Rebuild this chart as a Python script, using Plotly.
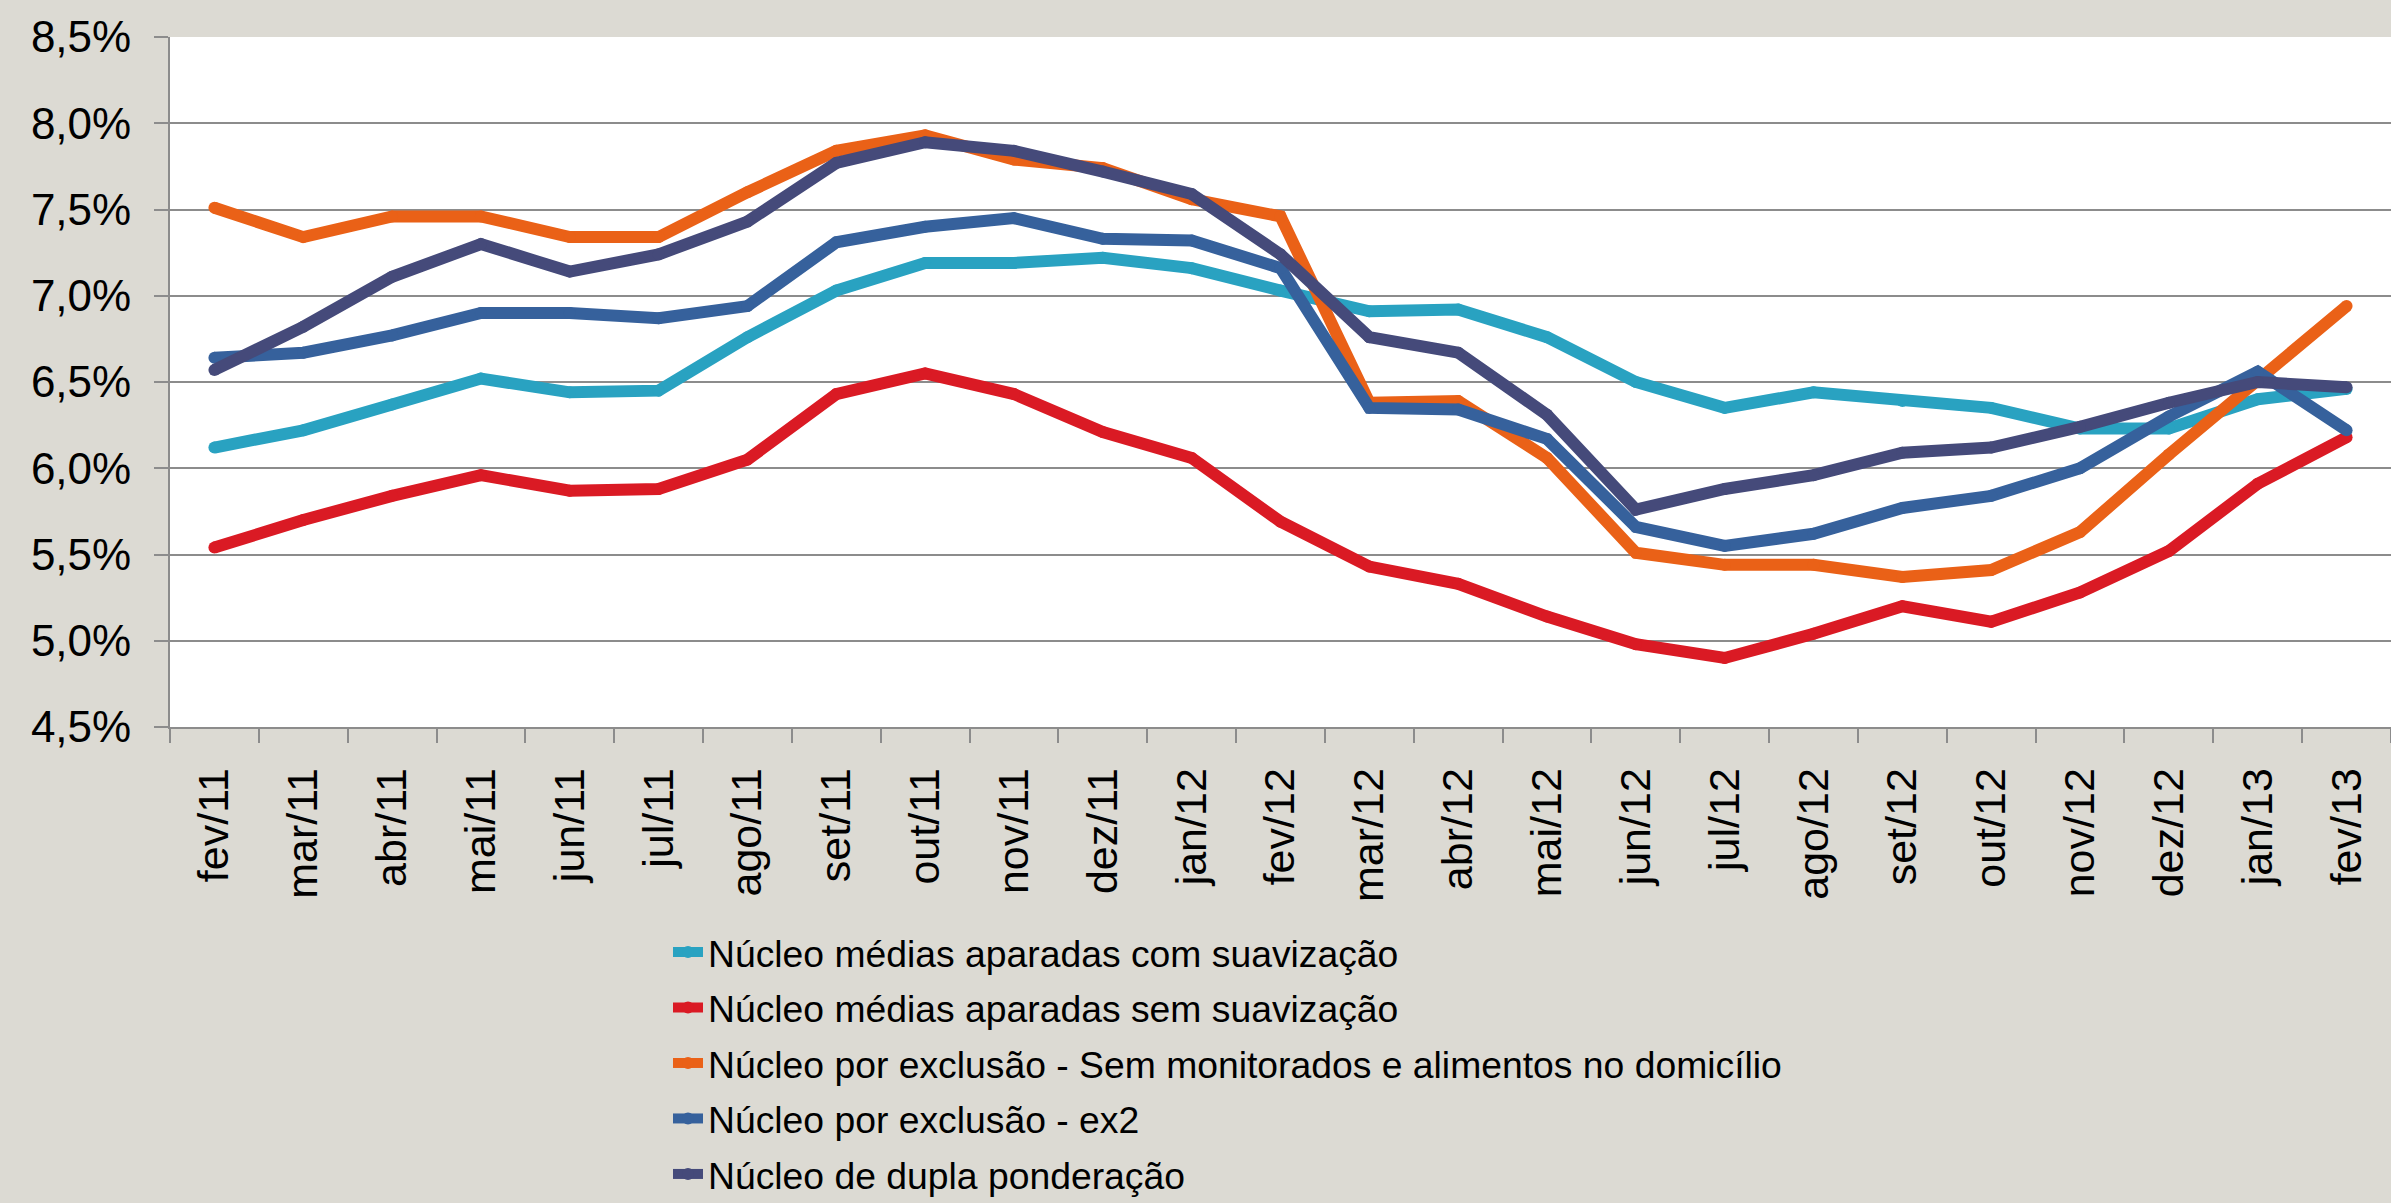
import plotly.graph_objects as go

categories = ["fev/11", "mar/11", "abr/11", "mai/11", "jun/11", "jul/11", "ago/11", "set/11",
              "out/11", "nov/11", "dez/11", "jan/12", "fev/12", "mar/12", "abr/12", "mai/12",
              "jun/12", "jul/12", "ago/12", "set/12", "out/12", "nov/12", "dez/12", "jan/13", "fev/13"]

medias_com_suav = [6.12, 6.22, 6.37, 6.52, 6.44, 6.45, 6.76, 7.03, 7.19, 7.19, 7.22, 7.16, 7.03,
                   6.91, 6.92, 6.76, 6.50, 6.35, 6.44, 6.39, 6.35, 6.23, 6.23, 6.40, 6.46]
medias_sem_suav = [5.54, 5.70, 5.84, 5.96, 5.87, 5.88, 6.05, 6.43, 6.55, 6.43, 6.21, 6.06, 5.69,
                   5.43, 5.33, 5.14, 4.98, 4.90, 5.04, 5.20, 5.11, 5.28, 5.52, 5.91, 6.18]
exclusao_sem_mon = [7.51, 7.34, 7.46, 7.46, 7.34, 7.34, 7.60, 7.84, 7.93, 7.79, 7.74, 7.56, 7.46,
                    6.38, 6.39, 6.06, 5.51, 5.44, 5.44, 5.37, 5.41, 5.63, 6.08, 6.50, 6.94]
exclusao_ex2 = [6.64, 6.67, 6.77, 6.90, 6.90, 6.87, 6.94, 7.31, 7.40, 7.45, 7.33, 7.32, 7.16,
                6.35, 6.34, 6.17, 5.66, 5.55, 5.62, 5.77, 5.84, 6.00, 6.30, 6.56, 6.22]
dupla_ponderacao = [6.57, 6.82, 7.11, 7.30, 7.14, 7.24, 7.43, 7.77, 7.89, 7.84, 7.72, 7.59, 7.24,
                    6.76, 6.67, 6.31, 5.76, 5.88, 5.96, 6.09, 6.12, 6.24, 6.38, 6.50, 6.47]

series_names = ["Núcleo médias aparadas com suavização",
                "Núcleo médias aparadas sem suavização",
                "Núcleo por exclusão - Sem monitorados e alimentos no domicílio",
                "Núcleo por exclusão - ex2",
                "Núcleo de dupla ponderação"]
series_values = [medias_com_suav, medias_sem_suav, exclusao_sem_mon, exclusao_ex2, dupla_ponderacao]
series_colors = ["#29a2c1", "#da1a24", "#ea6117", "#36619c", "#454a7a"]

W, H = 2391, 1203
L, T = 170, 36.5
B = H - 726.7
R = 0
FONT = "Liberation Sans, Arial, sans-serif"

fig = go.Figure()
for i, (name, vals, col) in enumerate(zip(series_names, series_values, series_colors)):
    fig.add_trace(go.Scatter(
        x=categories, y=vals, name=name, mode="lines+markers",
        line=dict(color=col, width=12),
        marker=dict(color=col, size=12, line=dict(width=0)),
        legendgroup=f"g{i}",
    ))

grid_col = "#8c8c8c"
fig.update_layout(
    width=W, height=H,
    margin=dict(l=L, r=R, t=T, b=B, pad=0, autoexpand=False),
    paper_bgcolor="#dcdad3",
    plot_bgcolor="#ffffff",
    separators=",.",
    font=dict(family=FONT, color="#000000", size=37.3),
    showlegend=True,
    legend=dict(
        orientation="v",
        x=(668 - L) / (W - L - R), xanchor="left",
        y=(726.7 - 921) / (726.7 - 36.5), yanchor="top",
        font=dict(family=FONT, size=37.3, color="#000000"),
        bgcolor="rgba(0,0,0,0)",
        traceorder="grouped",
        tracegroupgap=4,
        itemwidth=30,
    ),
    xaxis=dict(
        type="category",
        range=[-0.5, len(categories) - 0.5],
        tickson="boundaries",
        ticks="outside", ticklen=14, tickwidth=2, tickcolor=grid_col,
        showline=True, linecolor=grid_col, linewidth=2,
        showgrid=False, zeroline=False, automargin=False,
        tickangle=-90,
        tickfont=dict(family=FONT, size=43, color="#000000"),
        ticklabelstandoff=22,
    ),
    yaxis=dict(
        range=[4.5, 8.5], dtick=0.5, tick0=4.5,
        tickformat=".1f", ticksuffix="%",
        ticks="outside", ticklen=14, tickwidth=2, tickcolor=grid_col,
        showline=True, linecolor=grid_col, linewidth=2,
        showgrid=True, gridcolor=grid_col, gridwidth=2,
        zeroline=False, automargin=False,
        tickfont=dict(family=FONT, size=44, color="#000000"),
        ticklabelstandoff=14,
    ),
)

fig.write_html(
    "out.html",
    config={"displayModeBar": False},
    post_script="document.body.style.margin='0';document.body.style.padding='0';"
                "document.documentElement.style.margin='0';document.body.style.overflow='hidden';",
)
